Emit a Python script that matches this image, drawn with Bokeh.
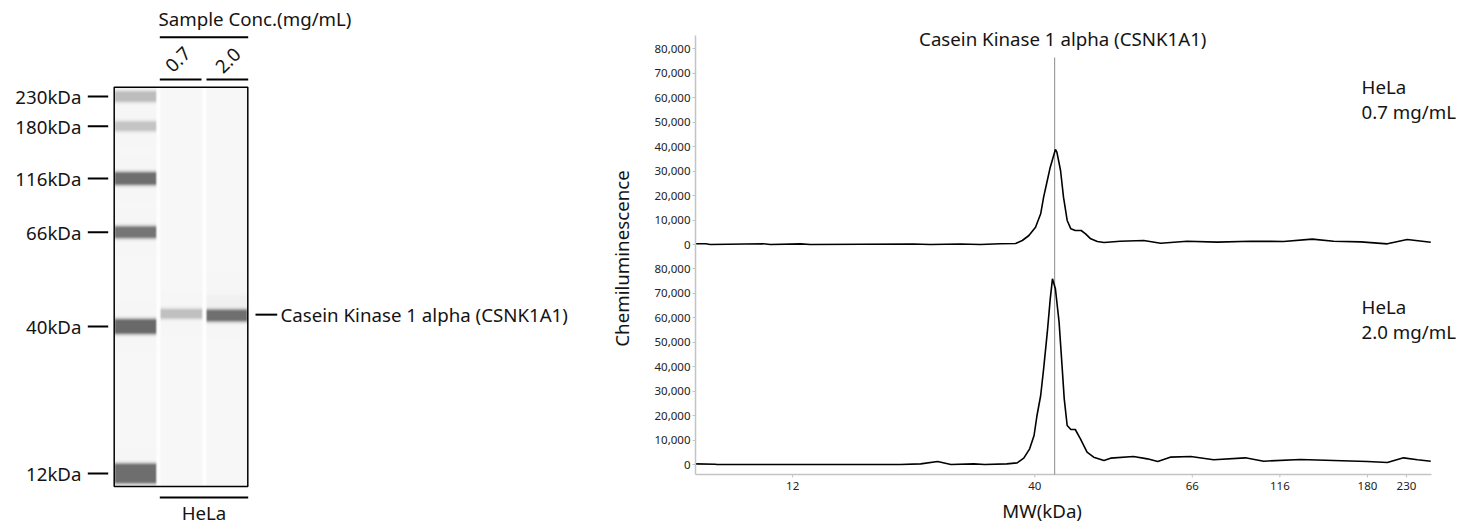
import math
import numpy as np
from bokeh.plotting import figure
from bokeh.models import Range1d, Label, FixedTicker, CustomJSTickFormatter
from bokeh.core.properties import value
from bokeh.layouts import row
from bokeh.embed import file_html
from bokeh.resources import INLINE

# ---------------- data ----------------
target_name = "Casein Kinase 1 alpha (CSNK1A1)"
sample_name = "HeLa"
sample_conc = ["0.7", "2.0"]

# virtual blot: migration position of bands in the lane (gel units, 0 = bottom of lane)
ladder_labels = ["230kDa", "180kDa", "116kDa", "66kDa", "40kDa", "12kDa"]
gel_ladder_pos = [390.0, 360.3, 308.0, 254.3, 160.0, 13.0]
gel_ladder_gray = [189, 196, 110, 117, 105, 110]
gel_ladder_halfwidth = [3.0, 2.5, 4.0, 3.5, 5.0, 7.5]
gel_sample_pos = [172.7, 171.0]
gel_sample_gray = [192, 112]
gel_sample_halfwidth = [2.5, 3.5]

# electropherogram: migration position (% of window) and chemiluminescence signal
mw_tick_labels = ["12", "40", "66", "116", "180", "230"]
mw_tick_pos = [13.2, 46.1, 67.5, 79.4, 91.3, 96.6]
target_pos = 48.8

trace_07_pos = [0.0, 1.4, 2.0, 9.2, 10.2, 14.3, 15.6, 29.6, 31.9, 36.0, 38.7, 41.4, 43.5,
                44.4, 45.3, 46.2, 46.9, 47.3, 47.8, 48.2, 48.9, 49.1, 49.6,
                50.0, 50.5, 51.0, 51.6, 52.4, 53.0, 53.7, 54.6, 55.5, 57.7,
                60.9, 63.2, 66.8, 70.9, 75.4, 79.9, 83.8, 86.7, 90.4, 94.0, 96.7, 99.9]
trace_07_signal = [300, 300, 0, 300, 0, 250, 0, 200, 0, 200, 0, 300, 400,
                   1630, 3670, 7070, 12520, 19320, 26130, 31570, 38780, 37690, 30210,
                   19320, 9800, 6400, 5710, 5710, 4360, 2310, 1220, 800, 1350,
                   1630, 540, 1350, 950, 1350, 1220, 2180, 1350, 1090, 270, 2040, 950]

trace_20_pos = [0.0, 2.7, 2.9, 27.8, 30.6, 32.9, 34.7, 37.8, 39.3, 42.3,
                43.7, 44.6, 45.4, 46.0, 46.4, 46.9, 47.3, 47.8, 48.2, 48.5,
                48.9, 49.4, 49.8, 50.1, 50.5, 51.0, 51.6, 52.3, 53.2, 54.1,
                55.5, 56.4, 59.5, 61.4, 62.8, 64.5, 67.3, 70.4, 74.7, 77.2,
                82.2, 86.7, 91.3, 94.0, 96.2, 98.1, 99.9]
trace_20_signal = [270, 130, 0, 0, 270, 1220, 0, 250, 0, 270,
                   680, 2590, 6400, 11840, 20000, 28170, 39060, 54000, 67630, 75800,
                   71720, 58100, 40400, 26800, 15920, 14290, 14290, 10480, 5030, 2990,
                   1630, 2590, 3270, 2310, 1220, 2990, 3270, 1910, 2720, 1350,
                   2040, 1630, 1220, 820, 2720, 1910, 1350]

y_ticks = [0, 10000, 20000, 30000, 40000, 50000, 60000, 70000, 80000]

FONT = "Noto Sans"
FS = "18.7px"
TXT = "#141414"
H_PAGE = 527

# ---------------- left: virtual gel (frame = canvas, data units = page pixels) ----------------
p1 = figure(width=640, height=H_PAGE, x_range=Range1d(0, 640), y_range=Range1d(486 - H_PAGE, 486),
            output_backend="svg", toolbar_location=None, x_axis_location=None,
            y_axis_location=None, min_border=0, title=None)
p1.outline_line_color = None
p1.grid.visible = False

gel_left, gel_right, gel_bottom, gel_top = 113.7, 247.3, 0.0, 399.3
W = int(round(gel_right - gel_left))
H = int(round(gel_top - gel_bottom))
xs = gel_left + np.arange(W) + 0.5
gs = gel_bottom + np.arange(H) + 0.5
lane_x = [(114.3, 155.7), (160.0, 201.7), (206.0, 246.7)]
img = np.full((H, W), 254.0)


def lane_profile(a, b):
    return np.clip(np.minimum(xs - a, b - xs) / 2.0 + 0.5, 0, 1)


masks = [lane_profile(a, b) for a, b in lane_x]
for m in masks:
    img -= 7 * m[None, :]


def add_band(lane, center, gray, hw, soft=2.2):
    d = np.abs(gs - center) - hw
    v = np.exp(-np.maximum(d, 0) ** 2 / (2 * soft ** 2))
    img[:] = img - (247 - gray) * np.outer(v, masks[lane])


for pos, gr, hw in zip(gel_ladder_pos, gel_ladder_gray, gel_ladder_halfwidth):
    add_band(0, pos, gr, hw)
for i, (pos, gr, hw) in enumerate(zip(gel_sample_pos, gel_sample_gray, gel_sample_halfwidth)):
    add_band(i + 1, pos, gr, hw)
add_band(2, gel_sample_pos[1] + 14, 241, 3, 3.0)

v8 = np.clip(img, 0, 255).astype(np.uint8)
rgba = np.empty((H, W), dtype=np.uint32)
view = rgba.view(dtype=np.uint8).reshape((H, W, 4))
view[:, :, 0] = v8
view[:, :, 1] = v8
view[:, :, 2] = v8
view[:, :, 3] = 255
p1.image_rgba(image=[rgba], x=gel_left, y=gel_bottom, dw=W, dh=H)
p1.quad(left=[gel_left], right=[gel_right], bottom=[gel_bottom], top=[gel_top],
        fill_alpha=0, line_color="black", line_width=1.5)

# ladder dashes + labels
p1.segment(x0=[87.3] * len(gel_ladder_pos), x1=[107.7] * len(gel_ladder_pos),
           y0=gel_ladder_pos, y1=gel_ladder_pos, line_color="black", line_width=2)
p1.text(x=[81] * len(ladder_labels), y=gel_ladder_pos, text=ladder_labels,
        text_align="right", text_baseline="middle", text_font=value(FONT),
        text_font_size=FS, text_color=TXT)

# brackets
p1.segment(x0=[159.3, 159.3, 206.0, 159.3], x1=[247.7, 201.0, 247.7, 247.7],
           y0=[449.3, 407.0, 407.0, -11.0], y1=[449.3, 407.0, 407.0, -11.0],
           line_color="black", line_width=2)
p1.add_layout(Label(x=158, y=468.5, text="Sample Conc.(mg/mL)", text_align="left",
                    text_baseline="middle", text_font=FONT, text_font_size=FS, text_color=TXT))
for cx, cy, t in zip([177.5, 227.5], [427.0, 426.0], sample_conc):
    p1.add_layout(Label(x=cx, y=cy, text=t, angle=math.pi / 4, text_align="center",
                        text_baseline="middle", text_font=FONT, text_font_size=FS,
                        text_color=TXT))
p1.add_layout(Label(x=203.5, y=-25.5, text=sample_name, text_align="center",
                    text_baseline="middle", text_font=FONT, text_font_size=FS, text_color=TXT))
band_y = (gel_sample_pos[0] + gel_sample_pos[1]) / 2
p1.segment(x0=[255.0], x1=[276.7], y0=[band_y], y1=[band_y], line_color="black", line_width=2)
p1.add_layout(Label(x=280, y=band_y, text=target_name, text_align="left",
                    text_baseline="middle", text_font=FONT, text_font_size=FS, text_color=TXT))
# y-axis title of the electropherogram (sits left of its axis)
p1.add_layout(Label(x=621, y=486 - 258, text="Chemiluminescence", angle=math.pi / 2,
                    text_align="center", text_baseline="middle", text_font=FONT,
                    text_font_size=FS, text_color=TXT))

# ---------------- right: electropherograms ----------------
PX = 80000.0 / 196.0          # signal units per pixel
ZERO_LOW = 464                # page row of the lower panel's zero line
OFF = 220 * PX                # vertical offset of the upper panel
y_lo = (ZERO_LOW - H_PAGE) * PX
y_hi = ZERO_LOW * PX
x_axis_y = (ZERO_LOW - 474) * PX
axis_top = (ZERO_LOW - 35) * PX
x_end = (1463 - 695) / 7.36

p2 = figure(width=1463 - 640, height=H_PAGE, x_range=Range1d(0, x_end), y_range=Range1d(y_lo, y_hi),
            output_backend="svg", toolbar_location=None, title=None, x_axis_location=None,
            min_border_left=55, min_border_right=0, min_border_top=0, min_border_bottom=0)
p2.extra_y_ranges = {"upper": Range1d(y_lo - OFF, y_hi - OFF)}
p2.outline_line_color = None
p2.grid.visible = False

ax_col = "#c4c4c4"
yax = p2.yaxis[0]
yax.bounds = (x_axis_y, axis_top)
yax.ticker = FixedTicker(ticks=y_ticks + [t + OFF for t in y_ticks])
yax.formatter = CustomJSTickFormatter(args=dict(off=OFF), code="""
const v = tick >= off - 1 ? tick - off : tick;
return Math.round(v).toLocaleString('en-US');
""")
yax.axis_line_color = ax_col
yax.axis_line_width = 1.5
yax.major_tick_line_color = ax_col
yax.major_tick_out = 3
yax.major_tick_in = 0
yax.minor_tick_line_color = None
yax.major_label_standoff = 2
yax.major_label_text_font = FONT
yax.major_label_text_font_size = "11.5px"
yax.major_label_text_color = "#222222"

# x axis (MW scale) at the bottom of the lower panel
n = len(mw_tick_pos)
p2.segment(x0=[-0.3], x1=[100.0], y0=[x_axis_y], y1=[x_axis_y], line_color=ax_col, line_width=1.5)
p2.segment(x0=mw_tick_pos, x1=mw_tick_pos, y0=[x_axis_y] * n, y1=[x_axis_y - 3 * PX] * n,
           line_color=ax_col, line_width=1)
p2.text(x=mw_tick_pos, y=[(ZERO_LOW - 485) * PX] * n, text=mw_tick_labels, text_align="center",
        text_baseline="middle", text_font=value(FONT), text_font_size="11.5px", text_color="#222222")
p2.add_layout(Label(x=47.1, y=(ZERO_LOW - 510) * PX, text="MW(kDa)", text_align="center",
                    text_baseline="middle", text_font=FONT, text_font_size=FS, text_color=TXT))

# target marker line
p2.segment(x0=[target_pos], x1=[target_pos], y0=[x_axis_y], y1=[(ZERO_LOW - 57) * PX],
           line_color="#8a8a8a", line_width=1)

p2.line(x=trace_07_pos, y=trace_07_signal, y_range_name="upper", line_color="black", line_width=1.6)
p2.line(x=trace_20_pos, y=trace_20_signal, line_color="black", line_width=1.6)

p2.add_layout(Label(x=49.9, y=(ZERO_LOW - 38) * PX, text=target_name, text_align="center",
                    text_baseline="middle", text_font=FONT, text_font_size=FS, text_color=TXT))
for rng, conc in zip(["upper", "default"], sample_conc):
    p2.add_layout(Label(x=90.5, y=(244 - 86) * PX, y_range_name=rng, text=sample_name,
                        text_align="left", text_baseline="middle", text_font=FONT,
                        text_font_size=FS, text_color=TXT))
    p2.add_layout(Label(x=90.5, y=(244 - 111) * PX, y_range_name=rng, text=f"{conc} mg/mL",
                        text_align="left", text_baseline="middle", text_font=FONT,
                        text_font_size=FS, text_color=TXT))

layout = row(p1, p2)
open("out.html", "w").write(file_html(layout, INLINE))
